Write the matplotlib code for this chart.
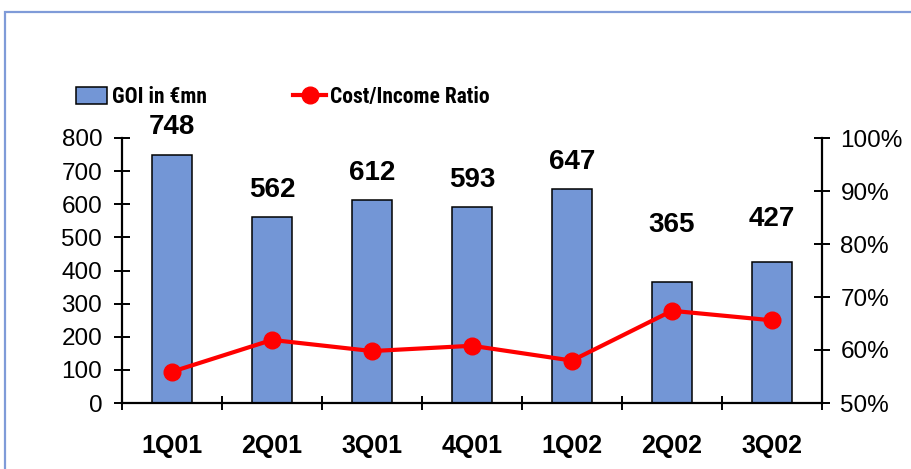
import matplotlib
matplotlib.use("Agg")
import matplotlib.pyplot as plt
from matplotlib.patches import Rectangle, Patch
from matplotlib.lines import Line2D
from matplotlib.ticker import FuncFormatter, MultipleLocator, FixedLocator
from matplotlib import font_manager

# Quarterly gross operating income and cost/income ratio
quarters = ["1Q01", "2Q01", "3Q01", "4Q01", "1Q02", "2Q02", "3Q02"]
goi = [748, 562, 612, 593, 647, 365, 427]
cost_income = [0.559, 0.619, 0.598, 0.608, 0.580, 0.674, 0.656]

# vertical gap (px) between each bar top and its value label
label_gap_px = [21, 20, 20, 19.5, 19.5, 50.5, 35.5]

BAR_COLOR = "#7396D6"
LINE_COLOR = "#FF0000"
FRAME_COLOR = "#7F9BD8"
W, H = 912, 469

plt.rcParams["font.family"] = ["Liberation Sans", "DejaVu Sans"]

# prefer a condensed face for the legend when one is installed
installed = {f.name for f in font_manager.fontManager.ttflist}
legend_family = "Liberation Sans"
legend_size = 14.5
for name in ["Liberation Sans Narrow", "Roboto Condensed", "Open Sans Condensed",
             "Noto Sans Condensed", "Arial Narrow"]:
    if name in installed:
        legend_family = name
        legend_size = 15.5
        break

fig = plt.figure(figsize=(W / 100, H / 100), dpi=100)
ax = fig.add_axes([122 / W, 1 - 403 / H, 700 / W, 265 / H])
ax2 = ax.twinx()

x = list(range(len(quarters)))
bars = ax.bar(x, goi, width=0.4, color=BAR_COLOR, edgecolor="black",
              linewidth=1.1, zorder=2)
line, = ax2.plot(x, cost_income, color=LINE_COLOR, linewidth=3,
                 marker="o", markersize=12, zorder=3)

for xi, v, gap in zip(x, goi, label_gap_px):
    ax.annotate(str(v), xy=(xi, v), xytext=(0, gap * 0.72),
                textcoords="offset points", ha="center", va="baseline",
                fontsize=20, fontweight="bold")

ax.set_xlim(-0.5, len(quarters) - 0.5)
ax.set_ylim(0, 800)
ax2.set_ylim(0.5, 1.0)

ax.yaxis.set_major_locator(MultipleLocator(100))
ax2.yaxis.set_major_locator(MultipleLocator(0.1))
ax2.yaxis.set_major_formatter(FuncFormatter(lambda v, _: f"{v * 100:.0f}%"))

ax.set_xticks(x)
ax.set_xticklabels(quarters, fontsize=18, fontweight="bold")
ax.xaxis.set_minor_locator(FixedLocator([i - 0.5 for i in range(len(quarters) + 1)]))
ax.tick_params(axis="x", which="major", length=0, pad=22)
ax.tick_params(axis="x", which="minor", direction="inout", length=10, width=1.4)
ax.tick_params(axis="y", direction="inout", length=11.5, width=1.4,
               labelsize=17.5, pad=8.5)
ax2.tick_params(axis="y", direction="inout", length=11.5, width=1.4,
                labelsize=17.5, pad=7.5)

for a in (ax, ax2):
    a.spines["top"].set_visible(False)
    for s in ("left", "bottom", "right"):
        a.spines[s].set_linewidth(1.6)
ax.spines["right"].set_visible(False)
ax2.spines["left"].set_visible(False)
ax2.spines["bottom"].set_visible(False)
ax.set_zorder(ax2.get_zorder() - 1)
ax2.patch.set_visible(False)

legend_font = {"family": legend_family, "weight": "bold", "size": legend_size}

# legend entries, placed independently
fig.legend(handles=[Patch(facecolor=BAR_COLOR, edgecolor="black", linewidth=1.1)],
           labels=["GOI in €mn"], loc="center left",
           bbox_to_anchor=(76 / W, 1 - 97 / H), frameon=False,
           borderpad=0, borderaxespad=0, handlelength=31 / (legend_size / 0.72),
           handleheight=17 / (legend_size / 0.72),
           handletextpad=0.25, prop=legend_font)
fig.legend(handles=[Line2D([0], [0], color=LINE_COLOR, linewidth=3,
                           marker="o", markersize=12)],
           labels=["Cost/Income Ratio"], loc="center left",
           bbox_to_anchor=(293 / W, 1 - 97 / H), frameon=False,
           borderpad=0, borderaxespad=0, handlelength=33 / (legend_size / 0.72),
           handletextpad=0.2, prop=legend_font)

# outer frame
fig.patches.append(Rectangle((5 / W, -0.1), 1.2, 1.1 - 12 / H, transform=fig.transFigure,
                             fill=False, edgecolor=FRAME_COLOR, linewidth=1.6))

fig.savefig("out.png", dpi=100)
